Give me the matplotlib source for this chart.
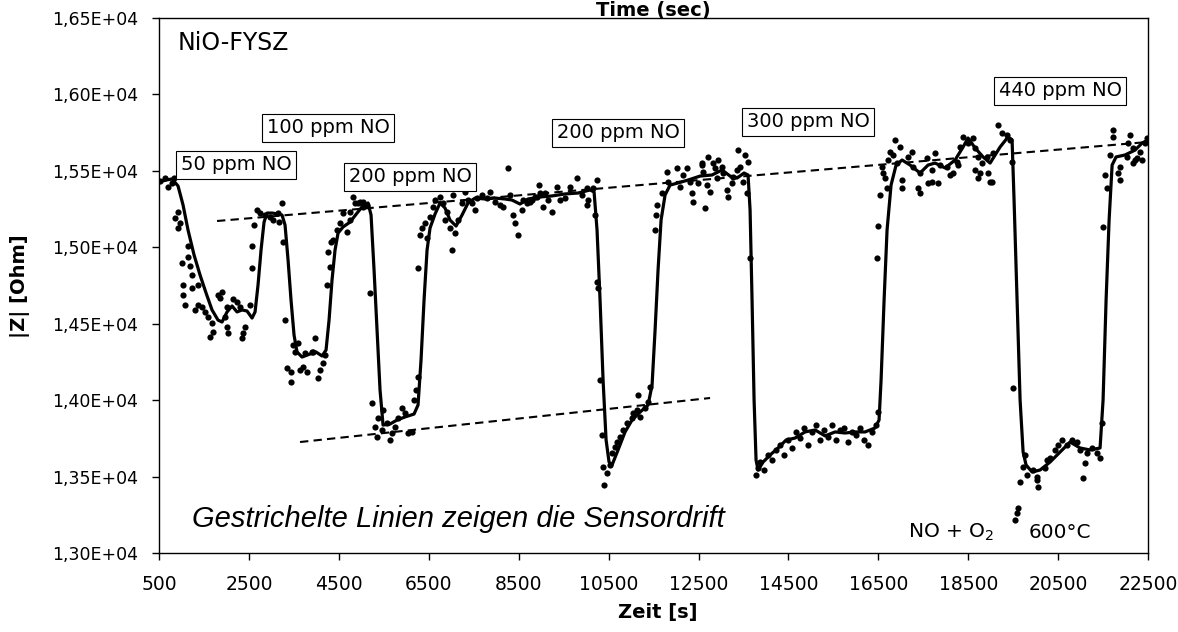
import matplotlib
matplotlib.use('Agg')
import matplotlib.pyplot as plt
from matplotlib.ticker import FuncFormatter

# measured points (Zeit [s], |Z| [Ohm])
pts_t = [522, 633, 700, 789, 834, 923, 856, 923, 967, 1145, 1145, 1012, 1190, 1234, 1034, 1034, 1078, 1234, 1368, 1368,
         1456, 1301, 1523, 1590, 1679, 1701, 1634, 1812, 1901, 1857, 2013, 1968, 2013, 2035, 2146, 2235, 2302, 2368, 2346, 2413,
         2524, 2569, 2569, 2613, 2680, 2747, 2858, 2969, 3036, 3147, 3169, 3236, 3258, 3303, 3481, 3592, 3525, 3748, 3904, 3970,
         3347, 3436, 3637, 3436, 3703, 3792, 3926, 4081, 4037, 4148, 4192, 4237, 4304, 4259, 4326, 4370, 4459, 4526, 4682, 4749,
         4815, 4926, 5038, 4593, 4749, 4860, 4971, 5127, 5038, 5194, 5238,
         5305, 5349, 5372, 5483, 5461, 5572, 5639, 5683, 5750, 5816, 5905, 5972, 6039, 6128, 6172, 6217, 6261, 6261, 6306, 6350,
         6417, 6462, 6528, 6595, 6640, 6751, 6817, 6906, 6862, 6973, 7018, 7084, 7040, 7151, 7240, 7307, 7374, 7463, 7529, 7574,
         7685, 7796, 7863, 7974, 8086, 8152, 8263, 8308, 8375, 8419, 8486, 8575, 8686, 8797, 8909, 8975,
         8597, 8753, 8864, 8953, 9087, 9042, 9242, 9153, 9353, 9420, 9531, 9643, 9798, 9910, 10021, 10043, 10021, 10154, 10199, 10243,
         10243, 10266,
         10310, 10354, 10377, 10466, 10399, 10532, 10577, 10644, 10688, 10755, 10822, 10911, 11022, 11044, 11133, 11200, 11155, 11311, 11378, 11422,
         11533, 11555, 11577, 11689, 11800, 11823, 12023, 12090, 12157, 12246, 12312, 12357, 12379, 12490, 12579, 12601, 12646, 12691, 12757, 12824,
         12712, 12913, 12579, 12868, 12935, 13024, 13046, 13135, 13158, 13246, 13269, 13358, 13380, 13424, 13491, 13536, 13580, 13602, 13647,
         13780, 13825, 13869, 13958, 14047, 14136, 14225, 14314, 14403, 14492, 14581, 14670, 14759, 14848, 14937, 15026, 15115, 15204, 15293, 15382,
         15471, 15560, 15649, 15738, 15827, 15916, 16005, 16094, 16183, 16272, 16361, 16450, 16494,
         16472, 16494, 16539, 16583, 16605, 16650, 16694, 16716, 16761, 16828, 16917, 16872, 16983, 17161, 17272, 17036, 17250, 17428, 17585, 17696,
         17762, 17873, 17606, 17829, 17384, 18029, 18162, 18251, 18319, 18385, 18496, 18607, 18652, 18719, 18808, 18652, 18763, 18941, 19030, 18919,
         19052, 19164, 19252, 19364, 19431, 19475, 17036, 17428, 17696, 18096, 18274, 18719, 18986,
         19498, 19764, 19720, 19809, 19942, 20031, 20209, 20254, 20320, 20432, 20498, 20587, 20698, 20810, 20921, 20988, 21099, 21143, 21254, 21366,
         21432, 21054, 20054, 20031, 19542, 19586, 19608, 19653,
         21477, 21499, 21588, 21544, 21655, 21877, 21833, 21722, 22099, 22166, 22255, 22322, 22433, 21722, 22054, 22166, 22367, 22478, 22032, 22211, 21877]
pts_z = [15434, 15454, 15395, 15421, 15454, 15231, 15192, 15126, 15159, 15009, 14937, 14897, 14878, 14819, 14754, 14688, 14623, 14734, 14754, 14623,
         14610, 14590, 14577, 14544, 14505, 14446, 14413, 14688, 14708, 14668, 14610, 14544, 14479, 14440, 14662, 14642, 14610, 14440, 14407, 14479,
         14623, 14865, 15009, 15146, 15244, 15225, 15211, 15198, 15179, 15225, 15166, 15290, 15035, 14525, 14361, 14374, 14315, 14309, 14315, 14407,
         14211, 14184, 14197, 14119, 14217, 14184, 14315, 14197, 14145, 14243, 14296, 14754, 14871, 14969, 15035, 15048, 15113, 15159, 15100, 15231,
         15329, 15290, 15297, 15225, 15179, 15290, 15297, 15277, 15264, 14701, 13982,
         13825, 13759, 13883, 13936, 13805, 13851, 13740, 13785, 13825, 13883, 13949, 13916, 13785, 13792, 14001, 14067, 14152, 14865, 15081, 15126,
         15159, 15061, 15198, 15264, 15310, 15329, 15290, 15231, 15179, 15126, 14982, 15094, 15342, 15179, 15290, 15362, 15310, 15290, 15244, 15323,
         15342, 15323, 15362, 15297, 15277, 15264, 15519, 15342, 15211, 15159, 15081, 15244, 15290, 15310, 15329, 15355,
         15310, 15297, 15329, 15408, 15355, 15264, 15231, 15310, 15395, 15310, 15323, 15395, 15454, 15342, 15388, 15310, 15277, 15388, 15211, 15440,
         14773, 14734,
         14132, 13772, 13563, 13524, 13445, 13576, 13654, 13694, 13726, 13759, 13805, 13851, 13883, 13916, 13936, 13890, 14034, 13949, 13988, 14086,
         15113, 15211, 15277, 15355, 15493, 15427, 15519, 15395, 15473, 15519, 15427, 15355, 15297, 15421, 15539, 15493, 15257, 15408, 15362, 15552,
         15591, 15454, 15552, 15519, 15571, 15525, 15486, 15375, 15329, 15421, 15460, 15506, 15637, 15525, 15427, 15604, 15355, 15558, 14930,
         13511, 13556, 13596, 13543, 13641, 13608, 13674, 13707, 13641, 13740, 13687, 13792, 13753, 13818, 13707, 13792, 13838, 13740, 13805, 13759,
         13838, 13740, 13805, 13818, 13726, 13792, 13772, 13818, 13740, 13707, 13792, 13838, 13923,
         14930, 15140, 15342, 15525, 15486, 15454, 15388, 15571, 15624, 15604, 15552, 15702, 15656, 15591, 15525, 15440, 15624, 15486, 15584, 15506,
         15617, 15539, 15421, 15421, 15388, 15525, 15486, 15558, 15656, 15722, 15683, 15715, 15650, 15591, 15552, 15506, 15486, 15486, 15427, 15591,
         15617, 15800, 15748, 15735, 15702, 15558, 15388, 15355, 15427, 15473, 15539, 15454, 15427,
         14080, 13641, 13563, 13511, 13543, 13497, 13556, 13608, 13622, 13674, 13707, 13740, 13707, 13740, 13726, 13674, 13589, 13654, 13687, 13654,
         13622, 13491, 13432, 13478, 13216, 13262, 13295, 13465,
         13851, 15133, 15388, 15473, 15604, 15440, 15486, 15768, 15735, 15552, 15584, 15624, 15683, 15722, 15683, 15650, 15571, 15715, 15591, 15571, 15525]

# smoothed curve
fit_t = [500, 656, 789, 923, 1034, 1145, 1279, 1412, 1546, 1679, 1812, 1901, 2013, 2124, 2235, 2346, 2458, 2569, 2636, 2702,
         2769, 2836, 2902, 3014, 3147, 3236, 3303, 3370, 3436, 3503, 3570, 3681, 3859, 3992, 4126, 4215, 4282, 4348, 4415, 4482,
         4593, 4749, 4905, 5016, 5149, 5216, 5283, 5349, 5416, 5483, 5639, 5794, 5972, 6172, 6261, 6328, 6395, 6462, 6528, 6640,
         6751, 6862, 6973, 7107, 7240, 7374, 7529, 7752, 7974, 8197, 8352, 8530, 8708, 8975, 9242, 9531, 9821, 10088, 10177, 10243,
         10310, 10377, 10444, 10510, 10577, 10710, 10866, 11022, 11200, 11378, 11467, 11534, 11600, 11667, 11756, 11867, 12045, 12268, 12535, 12801,
         13024, 13202, 13358, 13513, 13602, 13647, 13691, 13736, 13780, 13825, 13936, 14092, 14270, 14448, 14648, 14870, 15093, 15315, 15538, 15760,
         15983, 16205, 16427, 16516, 16561, 16628, 16694, 16783, 16895, 17028, 17206, 17428, 17606, 17762, 17985, 18207, 18385, 18496, 18652, 18830,
         18986, 19208, 19386, 19475, 19519, 19586, 19653, 19720, 19786, 19920, 20098, 20320, 20543, 20765, 20988, 21210, 21432, 21499, 21566, 21633,
         21700, 21788, 21988, 22211, 22367, 22500]
fit_z = [15427, 15440, 15447, 15401, 15277, 15113, 14950, 14819, 14701, 14590, 14524, 14511, 14577, 14616, 14577, 14590, 14583, 14537, 14577, 14753,
         14982, 15165, 15224, 15224, 15218, 15211, 15146, 14917, 14655, 14426, 14315, 14282, 14302, 14315, 14289, 14328, 14524, 14786, 14982, 15093,
         15133, 15165, 15224, 15264, 15290, 15211, 14851, 14459, 14066, 13837, 13844, 13870, 13890, 13909, 13968, 14263, 14655, 14982, 15126, 15218,
         15290, 15257, 15178, 15139, 15211, 15290, 15322, 15316, 15322, 15316, 15309, 15283, 15316, 15329, 15336, 15349, 15355, 15375, 15362, 15113,
         14655, 14132, 13740, 13595, 13576, 13674, 13792, 13870, 13922, 13968, 14099, 14459, 14851, 15178, 15342, 15407, 15421, 15440, 15466, 15473,
         15506, 15466, 15453, 15486, 15473, 15244, 14655, 14001, 13608, 13543, 13595, 13641, 13687, 13739, 13752, 13792, 13805, 13766, 13792, 13785,
         13792, 13792, 13818, 13870, 14132, 14655, 15113, 15407, 15538, 15571, 15538, 15486, 15538, 15551, 15519, 15571, 15656, 15715, 15650, 15591,
         15551, 15656, 15722, 15702, 15309, 14655, 14001, 13661, 13576, 13530, 13543, 13595, 13661, 13726, 13687, 13674, 13687, 14001, 14655, 15178,
         15538, 15591, 15604, 15636, 15682, 15702]

# drift lines
drift_hi_t = [1790, 22500]
drift_hi_z = [15172, 15689]
drift_lo_t = [3637, 12757]
drift_lo_z = [13726, 14014]

labels = ['50 ppm NO', '100 ppm NO', '200 ppm NO', '200 ppm NO', '300 ppm NO', '440 ppm NO']
label_t = [2213, 4259, 6083, 10710, 14937, 20543]
label_z = [15539, 15781, 15460, 15748, 15820, 16023]

fig = plt.figure(figsize=(11.78, 6.32), dpi=100)
ax = fig.add_axes([0.135, 0.125, 0.8396, 0.8465])

ax.scatter(pts_t, pts_z, s=20, c='black', linewidths=0, zorder=2)
ax.plot(fit_t, fit_z, color='black', lw=2.3, zorder=3)
ax.plot(drift_hi_t, drift_hi_z, color='black', lw=1.5, dashes=(4, 2.5), zorder=4)
ax.plot(drift_lo_t, drift_lo_z, color='black', lw=1.5, dashes=(4, 2.5), zorder=4)

for s, t, z in zip(labels, label_t, label_z):
    ax.text(t, z, s, ha='center', va='center', fontsize=14, family='DejaVu Sans', zorder=5,
            bbox=dict(boxstyle='square,pad=0.25', fc='white', ec='black', lw=0.8))

ax.text(0.019, 0.953, 'NiO-FYSZ', transform=ax.transAxes, fontsize=17, va='center', ha='left')
ax.text(0.033, 0.0486, 'Gestrichelte Linien zeigen die Sensordrift', transform=ax.transAxes,
        fontsize=21, style='italic', family='Liberation Sans', va='baseline', ha='left')
ax.text(0.757, 0.028, 'NO + O$_2$', transform=ax.transAxes, fontsize=14.5, va='baseline', ha='left')
ax.text(0.879, 0.028, '600°C', transform=ax.transAxes, fontsize=14.5, va='baseline', ha='left')

ax.set_xlim(500, 22500)
ax.set_ylim(13000, 16500)
ax.set_xticks(range(500, 22501, 2000))
ax.set_yticks(range(13000, 16501, 500))
ax.yaxis.set_major_formatter(FuncFormatter(lambda v, p: ('%.2E' % v).replace('.', ',')))
ax.tick_params(axis='both', direction='out', length=5, width=1, color='black')
ax.tick_params(axis='y', labelsize=12.5, pad=10)
ax.tick_params(axis='x', labelsize=13.5, pad=11)
for sp in ax.spines.values():
    sp.set_linewidth(1.0)
    sp.set_color('black')

fig.text(0.555, 0.9747, 'Time (sec)', fontsize=14, fontweight='bold', ha='center', va='baseline')
fig.text(0.017, 0.5475, '|Z| [Ohm]', fontsize=14, fontweight='bold', rotation=90, ha='center', va='center')
fig.text(0.5586, 0.0316, 'Zeit [s]', fontsize=14, fontweight='bold', ha='center', va='center')

fig.savefig('out.png', dpi=100)
